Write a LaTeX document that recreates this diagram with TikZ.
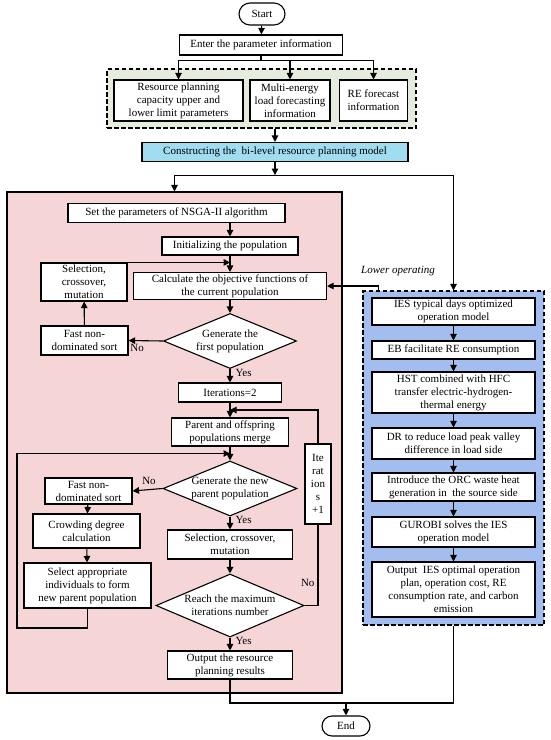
\documentclass[tikz,border=0pt]{standalone}
\usepackage{fontspec}
\setmainfont{Liberation Serif}
\usetikzlibrary{calc,arrows.meta,shapes.geometric,shapes.misc}

\definecolor{pinkbg}{HTML}{F5D5D5}
\definecolor{bluebg}{HTML}{A4BDEF}
\definecolor{greenbg}{HTML}{E5ECDD}
\definecolor{cyanbox}{HTML}{A0DDF0}

\begin{document}
\begin{tikzpicture}[x=1pt, y=-1pt, line width=1.1pt,
    font=\fontsize{11}{13}\selectfont,
    sz/.style 2 args={minimum width=#1pt, minimum height=#2pt},
    box/.style={draw, fill=white, align=center, inner sep=0pt},
    dec/.style={draw, fill=white, diamond, inner sep=0pt},
    term/.style={draw, fill=white, rounded rectangle, inner sep=0pt},
    panel/.style={draw, inner sep=0pt},
    dashpanel/.style={panel, dash pattern=on 4.5pt off 2.5pt},
    lbl/.style={inner sep=1pt},
    arr/.style={-{Triangle[length=6.5pt, width=6.5pt]}}]
    \useasboundingbox (0,0) rectangle (550,740);

    % input part
    \node[term, sz={46}{22}] (start) at (262,14) {Start};
    \node[box, sz={163}{20}] (enter) at (261,45) {Enter the parameter information};
    \node[dashpanel, fill=greenbg, sz={309}{59}] (input) at (261.5,98.5) {};
    \node[box, sz={129}{41}] (rp) at (178.5,100.5) {Resource planning\\capacity upper and\\lower limit parameters};
    \node[box, sz={80}{41}] (mel) at (290,100.5) {Multi-energy\\load forecasting\\information};
    \node[box, sz={68}{41}] (ref) at (373.5,100.5) {RE forecast\\information};
    \node[box, fill=cyanbox, sz={266}{19}] (cons) at (275,152) {Constructing the~ bi-level resource planning model};

    % backgrounds of the two levels
    \node[panel, fill=pinkbg, sz={335}{501}] (upper) at (174.5,442.5) {};
    \node[dashpanel, fill=bluebg, sz={181}{334}] (lower) at (453.5,458) {};

    % upper level: NSGA-II
    \node[box, sz={217}{19}] (setp) at (176.5,213) {Set the parameters of NSGA-II algorithm};
    \node[box, sz={136}{18}] (init) at (230,246) {Initializing the population};
    \node[box, sz={193}{27}] (calc) at (230,286) {Calculate the objective functions of\\the current population};
    \node[box, sz={86}{38}] (sel1) at (84,282) {Selection,\\crossover,\\mutation};
    \node[dec, sz={133}{55}, label={[align=center]center:Generate the\\first population}] (d1) at (230,341) {};
    \node[box, sz={87}{29}] (fast1) at (84.5,340.5) {Fast non-\\dominated sort};
    \node[box, sz={103}{19}] (it2) at (230,392.5) {Iterations=2};
    \node[box, sz={117}{28}] (merge) at (230,432) {Parent and offspring\\populations merge};
    \node[box, sz={26}{80}] (itp1) at (318,484) {Ite\\rat\\ion\\s\\+1};
    \node[dec, sz={134}{55}, label={[align=center]center:Generate the new\\parent population}] (d2) at (230,488.5) {};
    \node[box, sz={87}{26}] (fast2) at (88.5,491) {Fast non-\\dominated sort};
    \node[box, sz={107}{34}] (crowd) at (86.5,531) {Crowding degree\\calculation};
    \node[box, sz={127}{45}] (selapp) at (87.5,585.5) {Select appropriate\\individuals to form\\new parent population};
    \node[box, sz={125}{29}] (sel2) at (230,544.5) {Selection, crossover,\\mutation};
    \node[dec, sz={148}{63}, label={[align=center]center:Reach the maximum\\iterations number}] (d3) at (230,605.5) {};
    \node[box, sz={125}{28}] (out) at (230,665) {Output the resource\\planning results};

    % lower level: IES operation
    \node[box, sz={163}{27}] (ies) at (453.5,311.5) {IES typical days optimized\\operation model};
    \node[box, sz={163}{18}] (eb) at (453.5,350) {EB facilitate RE consumption};
    \node[box, sz={163}{41}] (hst) at (453.5,392.5) {HST combined with HFC\\transfer electric-hydrogen-\\thermal energy};
    \node[box, sz={163}{31}] (dr) at (453.5,443.5) {DR to reduce load peak valley\\difference in load side};
    \node[box, sz={163}{28}] (orc) at (453.5,487) {Introduce the ORC waste heat\\generation in~ the source side};
    \node[box, sz={163}{30}] (gur) at (453.5,532) {GUROBI solves the IES\\operation model};
    \node[box, sz={163}{55}] (oies) at (453.5,589.5) {Output~ IES optimal operation\\plan, operation cost, RE\\consumption rate, and carbon\\emission};
    \node[term, sz={48}{20}] (end) at (346,726) {End};
    \node[lbl, font=\fontsize{11}{13}\selectfont\itshape] (lotxt) at (398,271) {Lower operating};

    % connectors of the input part
    \coordinate (e1) at ($(enter.south)+(0,5)$);
    \coordinate (c1) at ($(cons.south)+(0,13)$);
    \draw[arr] (start) -- (enter);
    \draw (enter.south) -- (e1);
    \draw[arr] (e1) -| (rp.north);
    \draw[arr] (e1) -| (ref.north);
    \draw[arr] (e1 -| mel.north) -- (mel.north);
    \draw[arr] (cons.north |- input.south) -- (cons.north);
    \draw[arr] (cons.south) -- (c1);
    \draw[arr] (c1) -| (upper.north);
    \draw[arr] (c1) -| (lower.north);
    \draw[arr] ($(lower.north west)+(16,0)$) |- (calc.east);

    % connectors of the upper level
    \coordinate (m1) at ($(it2.south)!0.5!(merge.north)$);
    \coordinate (m2) at ($(merge.south)!0.5!(d2.north)$);
    \draw[arr] (init.north |- setp.south) -- (init.north);
    \draw[arr] (init) -- (calc);
    \draw[arr] (sel1.north east) -- (sel1.north east -| init.south);
    \draw[arr] (calc) -- (d1);
    \draw[arr] (d1.west) -- node[lbl, pos=0.75, below=2pt] {No} (fast1.east);
    \draw[arr] (fast1) -- (sel1);
    \draw[arr] (d1.south) -- node[lbl, pos=0.3, right=4pt] {Yes} (it2.north);
    \draw[arr] (it2) -- (merge);
    \draw[arr] (itp1.north) |- (m1);
    \draw[arr] (merge) -- (d2);
    \draw[arr] (selapp.south) |- (17,628) |- (m2);
    \draw[arr] (d2.west) -- node[lbl, pos=0.45, above=3pt] {No} (fast2.east);
    \draw[arr] (fast2) -- (crowd);
    \draw[arr] (crowd) -- (selapp);
    \draw[arr] (d2.south) -- node[lbl, pos=0.3, right=4pt] {Yes} (sel2.north);
    \draw[arr] (sel2) -- (d3);
    \draw (d3.east) -| node[lbl, pos=0.64, left=2pt] {No} (itp1.south);
    \draw[arr] (d3.south) -- node[lbl, pos=0.3, right=4pt] {Yes} (out.north);

    % connectors of the lower level
    \draw[arr] (ies) -- (eb);
    \draw[arr] (eb) -- (hst);
    \draw[arr] (hst) -- (dr);
    \draw[arr] (dr) -- (orc);
    \draw[arr] (orc) -- (gur);
    \draw[arr] (gur) -- (oies);

    % to the end
    \coordinate (j) at (346,703);
    \draw (out.south) |- (j);
    \draw (lower.south) |- (j);
    \draw[arr] (j) -- (end.north);
\end{tikzpicture}
\end{document}
